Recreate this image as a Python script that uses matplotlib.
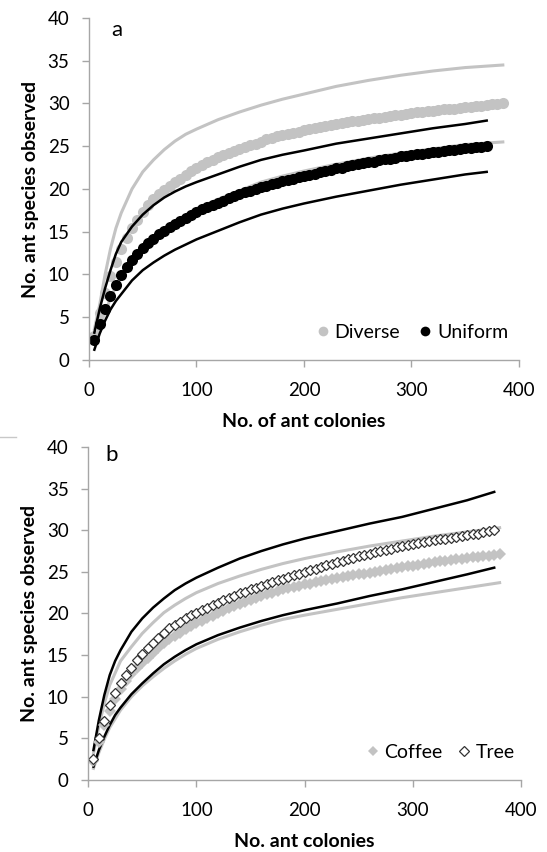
import numpy as np
import matplotlib
matplotlib.use("Agg")
import matplotlib.pyplot as plt
from matplotlib.lines import Line2D

plt.rcParams['font.family'] = ['Lato', 'DejaVu Sans']

# rarefaction curves, panel a (farm type)
colonies_diverse = list(range(5, 386, 5))
diverse = [2.8, 5.5, 7.8, 9.8, 11.5, 13.0, 14.3, 15.4, 16.4, 17.3,
           18.1, 18.8, 19.4, 19.9, 20.4, 20.8, 21.2, 21.6, 22.1, 22.5,
           22.8, 23.1, 23.4, 23.7, 23.95, 24.2, 24.45, 24.7, 24.9, 25.1,
           25.3, 25.55, 25.8, 26.0, 26.15, 26.3, 26.45, 26.6, 26.7, 26.85,
           27.0, 27.1, 27.25, 27.35, 27.5, 27.6, 27.7, 27.8, 27.9, 28.0,
           28.1, 28.2, 28.3, 28.35, 28.45, 28.5, 28.6, 28.7, 28.8, 28.85,
           28.95, 29.0, 29.1, 29.15, 29.25, 29.3, 29.35, 29.4, 29.5, 29.55,
           29.6, 29.7, 29.75, 29.8, 29.9, 29.95, 30.0]

colonies_uniform = list(range(5, 371, 5))
uniform = [2.3, 4.2, 6.0, 7.5, 8.8, 9.9, 10.9, 11.7, 12.4, 13.1,
           13.7, 14.2, 14.7, 15.1, 15.5, 15.9, 16.3, 16.6, 17.0, 17.3,
           17.6, 17.85, 18.1, 18.4, 18.65, 18.9, 19.15, 19.4, 19.6, 19.8,
           20.0, 20.2, 20.4, 20.55, 20.75, 20.9, 21.05, 21.2, 21.35, 21.5,
           21.65, 21.8, 21.95, 22.1, 22.25, 22.4, 22.5, 22.65, 22.75, 22.9,
           23.0, 23.1, 23.2, 23.35, 23.45, 23.55, 23.65, 23.8, 23.85, 23.95,
           24.05, 24.1, 24.2, 24.3, 24.35, 24.45, 24.5, 24.6, 24.65, 24.75,
           24.8, 24.9, 24.95, 25.0]

# 95% confidence limits
ci_x_diverse = [5, 10, 15, 20, 25, 30, 40, 50, 60, 70, 80, 90, 100, 120, 140,
                160, 180, 200, 230, 260, 290, 320, 350, 385]
diverse_upper = [3.6, 6.5, 10.0, 13.0, 15.4, 17.2, 20.0, 22.0, 23.4, 24.6,
                 25.6, 26.4, 27.0, 28.1, 29.0, 29.8, 30.5, 31.1, 32.0, 32.7,
                 33.3, 33.8, 34.2, 34.5]
diverse_lower = [2.0, 4.0, 5.6, 7.2, 8.6, 9.8, 11.7, 13.2, 14.4, 15.4,
                 16.2, 16.9, 17.7, 18.8, 19.8, 20.8, 21.5, 22.1, 22.9, 23.6,
                 24.2, 24.7, 25.2, 25.5]

ci_x_uniform = [5, 10, 15, 20, 25, 30, 40, 50, 60, 70, 80, 90, 100, 120, 140,
                160, 180, 200, 230, 260, 290, 320, 350, 370]
uniform_upper = [3.2, 6.0, 8.4, 10.5, 12.4, 13.8, 15.6, 17.0, 18.1, 19.0,
                 19.7, 20.3, 20.8, 21.7, 22.6, 23.4, 24.0, 24.5, 25.3, 25.9,
                 26.5, 27.1, 27.6, 28.0]
uniform_lower = [1.2, 3.1, 4.6, 5.9, 6.9, 7.7, 9.3, 10.5, 11.4, 12.2,
                 12.9, 13.5, 14.1, 15.1, 16.1, 17.0, 17.7, 18.3, 19.1, 19.8,
                 20.5, 21.1, 21.7, 22.0]

# panel b (nesting site)
colonies_coffee = list(range(5, 381, 5))
coffee = [2.3, 4.6, 6.6, 8.3, 9.7, 10.9, 11.9, 12.7, 13.4, 14.1,
          14.7, 15.3, 15.9, 16.4, 16.9, 17.3, 17.7, 18.1, 18.5, 18.8,
          19.15, 19.45, 19.75, 20.05, 20.3, 20.6, 20.85, 21.1, 21.35, 21.6,
          21.85, 22.1, 22.3, 22.5, 22.7, 22.9, 23.05, 23.2, 23.35, 23.5,
          23.6, 23.75, 23.9, 24.0, 24.1, 24.25, 24.35, 24.45, 24.6, 24.7,
          24.8, 24.9, 25.0, 25.15, 25.25, 25.35, 25.45, 25.55, 25.65, 25.75,
          25.85, 25.95, 26.05, 26.15, 26.25, 26.35, 26.4, 26.5, 26.55, 26.65,
          26.75, 26.8, 26.9, 26.95, 27.05, 27.1]

colonies_tree = list(range(5, 376, 5))
tree = [2.5, 5.0, 7.1, 9.0, 10.4, 11.6, 12.6, 13.5, 14.4, 15.1,
        15.8, 16.5, 17.1, 17.7, 18.2, 18.6, 19.0, 19.4, 19.8, 20.1,
        20.4, 20.7, 21.0, 21.3, 21.6, 21.9, 22.1, 22.4, 22.6, 22.9,
        23.1, 23.35, 23.55, 23.8, 24.0, 24.2, 24.4, 24.6, 24.8, 25.0,
        25.2, 25.4, 25.6, 25.8, 26.0, 26.2, 26.35, 26.5, 26.7, 26.85,
        27.0, 27.2, 27.35, 27.5, 27.65, 27.8, 27.95, 28.1, 28.2, 28.35,
        28.5, 28.6, 28.7, 28.8, 28.9, 29.0, 29.1, 29.2, 29.3, 29.4,
        29.5, 29.6, 29.75, 29.9, 30.0]

ci_x_coffee = [5, 10, 15, 20, 30, 40, 50, 60, 70, 80, 90, 100, 120, 140,
               160, 180, 200, 230, 260, 290, 320, 350, 380]
coffee_upper = [3.2, 6.5, 9.2, 11.4, 14.3, 16.0, 17.6, 18.9, 20.1, 21.0,
                21.8, 22.5, 23.6, 24.5, 25.3, 26.0, 26.6, 27.4, 28.1, 28.7,
                29.3, 29.8, 30.3]
coffee_lower = [1.4, 3.3, 4.9, 6.3, 8.4, 10.0, 11.3, 12.4, 13.4, 14.3,
                15.1, 15.8, 16.9, 17.8, 18.6, 19.3, 19.8, 20.5, 21.2, 21.9,
                22.5, 23.1, 23.7]

ci_x_tree = [5, 10, 15, 20, 25, 30, 40, 50, 60, 70, 80, 90, 100, 120, 140,
             160, 180, 200, 230, 260, 290, 320, 350, 375]
tree_upper = [3.6, 7.2, 10.2, 12.6, 14.3, 15.6, 17.8, 19.4, 20.7, 21.8,
              22.8, 23.6, 24.3, 25.5, 26.6, 27.5, 28.3, 29.0, 29.9, 30.8,
              31.6, 32.6, 33.6, 34.6]
tree_lower = [1.6, 3.6, 5.2, 6.6, 7.8, 8.7, 10.3, 11.6, 12.8, 13.9,
              14.8, 15.6, 16.3, 17.4, 18.3, 19.1, 19.8, 20.4, 21.2, 22.1,
              22.9, 23.8, 24.7, 25.5]

GREY = "#c3c3c3"
AXIS = "#a6a6a6"


def style_axis(ax, xlabel):
    ax.set_xlim(0, 400)
    ax.set_ylim(0, 40)
    ax.set_xticks([0, 100, 200, 300, 400])
    ax.set_yticks(range(0, 41, 5))
    for side in ["top", "right"]:
        ax.spines[side].set_visible(False)
    for side in ["left", "bottom"]:
        ax.spines[side].set_color(AXIS)
        ax.spines[side].set_linewidth(1.0)
    ax.tick_params(direction="out", length=5, width=1.0, color=AXIS,
                   labelsize=13.5)
    ax.tick_params(axis="x", pad=11)
    ax.tick_params(axis="y", pad=9)
    ax.set_xlabel(xlabel, fontsize=14, fontweight="bold", labelpad=10)
    ax.set_ylabel("No. ant species observed", fontsize=14, fontweight="bold",
                  labelpad=6)


fig = plt.figure(figsize=(5.47, 8.52), dpi=100)

# ---- a ----
ax1 = fig.add_axes([0.1627, 0.5775, 0.786, 0.4014])
ax1.plot(ci_x_diverse, diverse_upper, color=GREY, lw=2.2)
ax1.plot(ci_x_diverse, diverse_lower, color=GREY, lw=2.2)
ax1.plot(colonies_diverse, diverse, "o", color=GREY, ms=8, mew=0)
ax1.plot(ci_x_uniform, uniform_upper, color="black", lw=1.8)
ax1.plot(ci_x_uniform, uniform_lower, color="black", lw=1.8)
ax1.plot(colonies_uniform, uniform, "o", color="black", ms=8, mew=0)
ax1.text(26, 38.6, "a", fontsize=16, va="center", ha="center")
style_axis(ax1, "No. of ant colonies")

handles1 = [Line2D([], [], ls="none", marker="o", color=GREY, ms=7, mew=0),
            Line2D([], [], ls="none", marker="o", color="black", ms=7, mew=0)]
ax1.legend(handles1, ["Diverse", "Uniform"], ncol=2, frameon=False,
           loc="center right", bbox_to_anchor=(0.975, 0.08), fontsize=14,
           handlelength=0.6, handletextpad=0.3, columnspacing=1.0,
           borderpad=0, borderaxespad=0)

# ---- b ----
ax2 = fig.add_axes([0.161, 0.0845, 0.792, 0.3909])
ax2.plot(ci_x_coffee, coffee_upper, color=GREY, lw=2.2)
ax2.plot(ci_x_coffee, coffee_lower, color=GREY, lw=2.2)
ax2.plot(ci_x_tree, tree_upper, color="black", lw=1.8)
ax2.plot(ci_x_tree, tree_lower, color="black", lw=1.8)
ax2.plot(colonies_coffee, coffee, "D", color=GREY, ms=6.5, mew=0)
ax2.plot(colonies_tree, tree, "D", mfc="white", mec="#333333", ms=5, mew=0.9)
ax2.text(22, 39, "b", fontsize=16, va="center", ha="center")
style_axis(ax2, "No. ant colonies")

handles2 = [Line2D([], [], ls="none", marker="D", color=GREY, ms=5, mew=0),
            Line2D([], [], ls="none", marker="D", mfc="white", mec="#333333",
                   ms=5, mew=0.9)]
ax2.legend(handles2, ["Coffee", "Tree"], ncol=2, frameon=False,
           loc="center right", bbox_to_anchor=(0.985, 0.084), fontsize=14,
           handlelength=0.6, handletextpad=0.3, columnspacing=0.8,
           borderpad=0, borderaxespad=0)

# short border stub left over from the chart frame
fig.add_artist(Line2D([0, 0.03], [1 - 437 / 852, 1 - 437 / 852],
                      color="#c8c8c8", lw=1))

fig.savefig("out.png", dpi=100)
